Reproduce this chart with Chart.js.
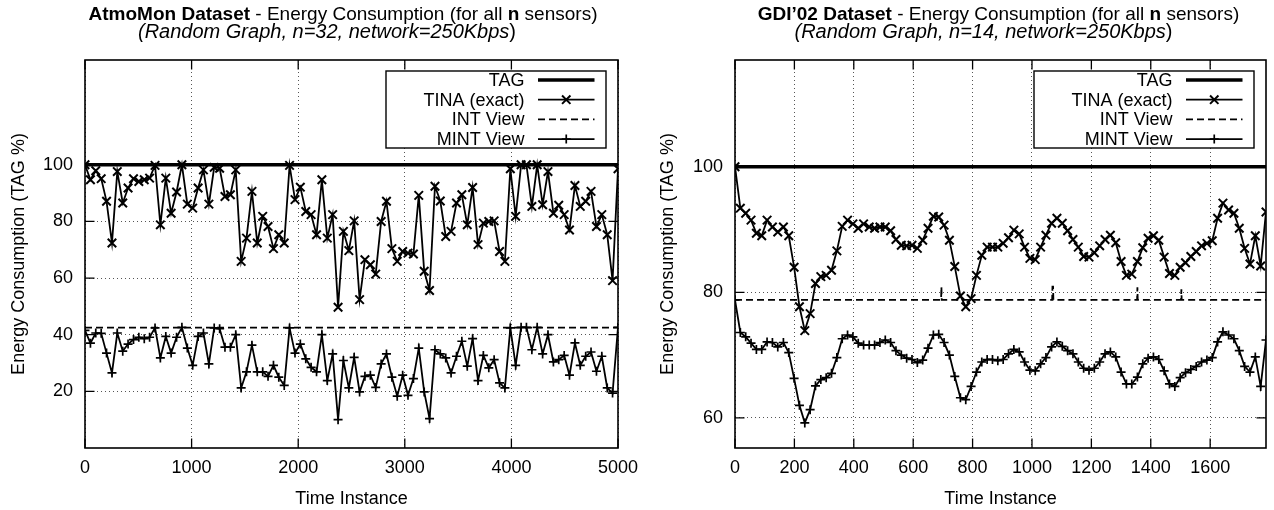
<!DOCTYPE html>
<html>
<head>
<meta charset="utf-8">
<script src="https://cdn.jsdelivr.net/npm/chart.js@4"></script>
<style>
  body { margin: 0; background: #fff; }
  #wrap { position: relative; width: 1274px; height: 510px; overflow: hidden; }
  canvas { position: absolute; top: 0; }
  #atmoChart { left: 0; }
  #gdiChart { left: 637px; }
</style>
</head>
<body>
<div id="wrap">
  <canvas id="atmoChart" width="660" height="510"></canvas>
  <canvas id="gdiChart" width="637" height="510"></canvas>
</div>
<script>
const seriesNames = ['TAG', 'TINA (exact)', 'INT View', 'MINT View'];

// AtmoMon dataset (left)
const atmoTimes = [0, 51, 101, 152, 202, 253, 303, 354, 404, 455, 505, 556, 606, 657, 707, 758, 808, 859, 909, 960,
  1010, 1061, 1111, 1162, 1212, 1263, 1313, 1364, 1414, 1465, 1515, 1566, 1616, 1667, 1717, 1768, 1818, 1869, 1919, 1970,
  2020, 2071, 2121, 2172, 2222, 2273, 2323, 2374, 2424, 2475, 2525, 2576, 2626, 2677, 2727, 2778, 2828, 2879, 2929, 2980,
  3030, 3081, 3131, 3182, 3232, 3283, 3333, 3384, 3434, 3485, 3535, 3586, 3636, 3687, 3737, 3788, 3838, 3889, 3939, 3990,
  4040, 4091, 4141, 4192, 4242, 4293, 4343, 4394, 4444, 4495, 4545, 4596, 4646, 4697, 4747, 4798, 4848, 4899, 4949, 5000];
const atmoTina = [100, 94.7, 97.9, 95.1, 87.1, 72.4, 97.6, 86.5, 91.8, 95.1, 94.1, 94.7, 95.3, 99.8, 78.8, 95.3, 82.9, 90.4, 100, 86.1,
  84.7, 91.8, 98.2, 86.1, 99.1, 98.8, 88.8, 89.4, 98.2, 65.9, 74.1, 90.6, 72.4, 81.8, 78.2, 70.4, 75.3, 72.4, 99.8, 87.7,
  92.1, 83.5, 82.4, 75.3, 94.7, 74.1, 82.4, 49.7, 76.5, 69.7, 80.2, 52.4, 66.5, 64.7, 61.4, 80, 87.1, 70.4, 65.9, 69.4,
  68.8, 68.5, 89.2, 62.4, 55.6, 92.4, 87.2, 74.7, 76.5, 86.5, 89.4, 78.8, 92, 71.8, 79.4, 80, 80.2, 69.4, 65.9, 98.6,
  81.8, 100, 100, 85.3, 100, 85.9, 97.6, 82.9, 85.7, 82.4, 77, 92.7, 85.3, 87.1, 90.6, 78.2, 82.4, 75.3, 59.1, 98.6];
const atmoMint = [41.5, 37, 40.6, 40.5, 33.5, 26.5, 40.6, 34.2, 36.7, 38.3, 39.1, 38.6, 39.1, 42.4, 31.8, 39.4, 33.5, 39.1, 42.6, 35.3,
  29.2, 39.4, 40.6, 29.7, 42.4, 42.1, 35.6, 35.6, 40, 21.2, 26.9, 36.3, 26.9, 26.9, 25.3, 29.2, 25, 22.1, 42.4, 33.5,
  36.7, 31.5, 28.5, 26.9, 40, 23.8, 33.2, 10, 30.9, 21.2, 32, 19.8, 25.3, 25.7, 21.4, 29.7, 33.2, 25, 18.3, 25.7,
  18.6, 24.5, 35.3, 19.8, 10.4, 34.7, 33.2, 31.8, 26.5, 32.4, 37.7, 28.9, 38.6, 23.8, 32.7, 28.3, 31.2, 23, 21.2, 42.4,
  29.2, 42.6, 42.6, 34.7, 42.6, 33.2, 40, 30.4, 31.2, 32.7, 25.7, 37.1, 29.2, 32.4, 33.9, 27.1, 32.4, 21.2, 19.4, 42.6];
const atmoTagTimes = [0, 5000];
const atmoTag = [100, 100];
const atmoIntTimes = [0, 5000];
const atmoInt = [42.5, 42.5];
const atmoXTicks = [0, 1000, 2000, 3000, 4000, 5000];
const atmoYTicks = [20, 40, 60, 80, 100];

// GDI'02 dataset (right)
const gdiTimes = [0, 18, 36, 54, 72, 90, 108, 126, 144, 163, 181, 199, 217, 235, 253, 271, 289, 307, 325, 343,
  361, 379, 397, 415, 433, 452, 470, 488, 506, 524, 542, 560, 578, 596, 614, 632, 650, 668, 686, 704,
  722, 740, 759, 777, 795, 813, 831, 849, 867, 885, 903, 921, 939, 957, 975, 993, 1011, 1029, 1047, 1066,
  1084, 1102, 1120, 1138, 1156, 1174, 1192, 1210, 1228, 1246, 1264, 1282, 1300, 1318, 1336, 1355, 1373, 1391, 1409, 1427,
  1445, 1463, 1481, 1499, 1517, 1535, 1553, 1571, 1589, 1607, 1625, 1643, 1662, 1680, 1698, 1716, 1734, 1752, 1770, 1788];
const gdiTina = [100, 93.4, 92.6, 91.5, 89.4, 89, 91.5, 90.4, 89.6, 90.4, 89, 84, 77.7, 73.9, 76.6, 81.4, 82.5, 82.7, 83.5, 86.6,
  90.5, 91.5, 90.9, 90.2, 90.9, 90.4, 90.2, 90.4, 90.4, 89.8, 88.4, 87.5, 87.4, 87.5, 87, 88.3, 90.2, 92.1, 92, 90.7,
  88.3, 84.1, 79.4, 77.7, 79, 82.7, 85.9, 87.2, 87.2, 87.2, 87.8, 88.7, 89.9, 89.3, 87.2, 85.4, 85.2, 87.2, 89.1, 91,
  91.8, 91, 89.8, 88.4, 87.2, 85.7, 85.6, 86.3, 87.4, 88.4, 89.1, 87.9, 84.9, 82.7, 82.9, 84.9, 87.1, 88.6, 89, 88.3,
  85.6, 83, 82.7, 84, 84.7, 85.7, 86.5, 87.4, 87.8, 88.2, 91.8, 94.2, 93.1, 92.6, 90.2, 87, 84.5, 89, 84.2, 92.8];
const gdiMint = [78.8, 73.6, 72.9, 71.9, 70.9, 70.9, 72.1, 72, 71.3, 72, 70.4, 66.3, 62, 59.2, 61.3, 65.1, 66.1, 66.4, 67.1, 69.6,
  72.6, 73.2, 72.9, 71.9, 71.6, 71.6, 71.6, 72, 72.4, 72, 70.7, 70, 69.5, 69.3, 68.8, 69.2, 71.1, 73.2, 73.3, 72,
  70, 66.6, 63.2, 62.9, 65, 67.3, 68.9, 69.3, 69.3, 69.1, 69.3, 70.2, 70.9, 70.5, 68.9, 67.6, 67.5, 68.6, 69.6, 71.3,
  72.1, 71.4, 70.7, 70.2, 68.9, 67.9, 67.6, 67.9, 68.9, 70.2, 70.5, 69.7, 67.3, 65.4, 65.4, 66.5, 68.6, 69.5, 69.7, 69.3,
  67.5, 65.4, 65, 66.4, 67.2, 67.7, 68.2, 68.9, 69.2, 69.6, 72.1, 73.7, 73.2, 72.6, 70.7, 68.2, 67.3, 69.7, 65, 72.4];
const gdiTagTimes = [0, 1788];
const gdiTag = [100, 100];
const gdiIntTimes = [0, 694, 695, 696, 1068, 1069, 1071, 1072, 1354, 1355, 1356, 1502, 1503, 1504, 1788];
const gdiInt = [78.8, 78.8, 80.9, 78.8, 78.8, 80.9, 80.9, 78.8, 78.8, 80.8, 78.8, 78.8, 80.5, 78.8, 78.8];
const gdiXTicks = [0, 200, 400, 600, 800, 1000, 1200, 1400, 1600];
const gdiYTicks = [60, 80, 100];

const fontFamily = '"Liberation Sans", Arial, sans-serif';
const textSize = 18;

function pts(xs, ys) {
    return xs.map((x, i) => ({ x: x, y: ys[i] }));
}

function fontFor(part, size) {
    return (part.i ? 'italic ' : '') + (part.b ? 'bold ' : '') + size + 'px ' + fontFamily;
}

function drawRich(ctx, parts, cx, y, size) {
    let total = 0;
    parts.forEach(p => {
        ctx.font = fontFor(p, size);
        p.w = ctx.measureText(p.t).width;
        total += p.w;
    });
    let x = cx - total / 2;
    ctx.textAlign = 'left';
    ctx.textBaseline = 'alphabetic';
    parts.forEach(p => {
        ctx.font = fontFor(p, size);
        ctx.fillText(p.t, x, y);
        x += p.w;
    });
}

function drawMarker(ctx, style, x, y) {
    ctx.beginPath();
    if (style === 'crossRot') {
        ctx.moveTo(x - 4.2, y - 4.2); ctx.lineTo(x + 4.2, y + 4.2);
        ctx.moveTo(x - 4.2, y + 4.2); ctx.lineTo(x + 4.2, y - 4.2);
    } else {
        ctx.moveTo(x - 4.5, y); ctx.lineTo(x + 4.5, y);
        ctx.moveTo(x, y - 4.5); ctx.lineTo(x, y + 4.5);
    }
    ctx.stroke();
}

// gnuplot-like frame, inner ticks, title and boxed legend
const gnuplotLook = {
    id: 'gnuplotLook',
    afterDraw(chart, args, opts) {
        const ctx = chart.ctx;
        const area = chart.chartArea;
        const xs = chart.scales.x, ys = chart.scales.y;
        ctx.save();
        ctx.strokeStyle = '#000';
        ctx.fillStyle = '#000';

        // inner tick marks on all four sides
        ctx.lineWidth = 1.3;
        ctx.beginPath();
        xs.ticks.forEach(t => {
            const px = xs.getPixelForValue(t.value);
            ctx.moveTo(px, area.bottom); ctx.lineTo(px, area.bottom - 9.5);
            ctx.moveTo(px, area.top); ctx.lineTo(px, area.top + 9.5);
        });
        ys.ticks.forEach(t => {
            const py = ys.getPixelForValue(t.value);
            ctx.moveTo(area.left, py); ctx.lineTo(area.left + 9.5, py);
            ctx.moveTo(area.right, py); ctx.lineTo(area.right - 9.5, py);
        });
        ctx.stroke();

        // border
        ctx.lineWidth = 1.6;
        ctx.strokeRect(area.left, area.top, area.right - area.left, area.bottom - area.top);

        // title
        drawRich(ctx, opts.line1, opts.cx1, 20, 19);
        drawRich(ctx, opts.line2, opts.cx2, 38, 20);

        // legend box
        const boxR = area.right - 12, boxL = boxR - 220, boxT = 71, boxB = 148;
        ctx.fillStyle = '#fff';
        ctx.fillRect(boxL, boxT, boxR - boxL, boxB - boxT);
        ctx.lineWidth = 1.4;
        ctx.strokeRect(boxL, boxT, boxR - boxL, boxB - boxT);
        ctx.fillStyle = '#000';
        ctx.font = textSize + 'px ' + fontFamily;
        ctx.textAlign = 'right';
        ctx.textBaseline = 'middle';
        chart.data.datasets.forEach((ds, i) => {
            const y = 80 + i * 19.7;
            ctx.fillText(ds.label, boxR - 81.5, y + 1);
            const x0 = boxR - 68, x1 = boxR - 11.5;
            ctx.lineWidth = ds.borderWidth;
            ctx.setLineDash(ds.borderDash || []);
            ctx.beginPath();
            ctx.moveTo(x0, y); ctx.lineTo(x1, y);
            ctx.stroke();
            ctx.setLineDash([]);
            if (ds.pointRadius > 0) {
                ctx.lineWidth = ds.pointBorderWidth;
                drawMarker(ctx, ds.pointStyle, (x0 + x1) / 2, y);
            }
        });
        ctx.restore();
    }
};

function makeChart(canvasId, cfg) {
    const ctx = document.getElementById(canvasId).getContext('2d');
    return new Chart(ctx, {
        type: 'line',
        data: {
            datasets: [
                { label: seriesNames[0], data: pts(cfg.tagTimes, cfg.tag), borderColor: '#000', borderWidth: 3.6, pointRadius: 0 },
                { label: seriesNames[1], data: pts(cfg.times, cfg.tina), borderColor: '#000', borderWidth: 1.8,
                  pointStyle: 'crossRot', pointRadius: 6, pointBorderWidth: 2, pointBorderColor: '#000' },
                { label: seriesNames[2], data: pts(cfg.intTimes, cfg.int), borderColor: '#000', borderWidth: 1.8,
                  borderDash: [7, 4], pointRadius: 0 },
                { label: seriesNames[3], data: pts(cfg.times, cfg.mint), borderColor: '#000', borderWidth: 1.8,
                  pointStyle: 'cross', pointRadius: 4.5, pointBorderWidth: 1.7, pointBorderColor: '#000' }
            ]
        },
        options: {
            responsive: false,
            animation: false,
            devicePixelRatio: 1,
            tension: 0,
            layout: { padding: { left: 0, right: cfg.padRight, top: 60, bottom: 0 } },
            plugins: {
                legend: { display: false },
                tooltip: { enabled: false },
                gnuplotLook: { line1: cfg.line1, line2: cfg.line2, cx1: cfg.cx1, cx2: cfg.cx2 }
            },
            scales: {
                x: {
                    type: 'linear',
                    min: cfg.xMin,
                    max: cfg.xMax,
                    afterBuildTicks: axis => { axis.ticks = cfg.xTicks.map(v => ({ value: v })); },
                    afterFit: axis => { axis.height = 62; axis.paddingLeft = 0; axis.paddingRight = 0; },
                    grid: { drawTicks: false, color: '#555', lineWidth: 1 },
                    border: { display: false, dash: [1, 3] },
                    ticks: { padding: 9, color: '#000', font: { family: fontFamily, size: textSize },
                             callback: v => String(v) },
                    title: { display: true, text: 'Time Instance', color: '#000',
                             font: { family: fontFamily, size: textSize }, padding: { top: 0, bottom: 0 } }
                },
                y: {
                    min: cfg.yMin,
                    max: cfg.yMax,
                    afterBuildTicks: axis => { axis.ticks = cfg.yTicks.map(v => ({ value: v })); },
                    afterFit: axis => { axis.width = cfg.yWidth; axis.paddingTop = 0; axis.paddingBottom = 0; },
                    grid: { drawTicks: false, color: '#555', lineWidth: 1 },
                    border: { display: false, dash: [1, 3] },
                    ticks: { padding: 12, color: '#000', font: { family: fontFamily, size: textSize },
                             callback: v => String(v) },
                    title: { display: true, text: 'Energy Consumption (TAG %)', color: '#000',
                             font: { family: fontFamily, size: textSize }, padding: { top: cfg.yTitlePad, bottom: 0 } }
                }
            }
        },
        plugins: [gnuplotLook]
    });
}

makeChart('atmoChart', {
    times: atmoTimes, tina: atmoTina, mint: atmoMint,
    tagTimes: atmoTagTimes, tag: atmoTag, intTimes: atmoIntTimes, int: atmoInt,
    xMin: 0, xMax: 5000, yMin: 0, yMax: 137, xTicks: atmoXTicks, yTicks: atmoYTicks,
    padRight: 42, yWidth: 85, yTitlePad: 8,
    line1: [{ t: 'AtmoMon Dataset', b: true }, { t: ' - Energy Consumption (for all ' }, { t: 'n', b: true }, { t: ' sensors)' }],
    line2: [{ t: '(Random Graph, n=32, network=250Kbps', i: true }, { t: ')' }],
    cx1: 343, cx2: 327
});

makeChart('gdiChart', {
    times: gdiTimes, tina: gdiTina, mint: gdiMint,
    tagTimes: gdiTagTimes, tag: gdiTag, intTimes: gdiIntTimes, int: gdiInt,
    xMin: 0, xMax: 1788, yMin: 55.2, yMax: 117, xTicks: gdiXTicks, yTicks: gdiYTicks,
    padRight: 7, yWidth: 98, yTitlePad: 20,
    line1: [{ t: 'GDI\u201902 Dataset', b: true }, { t: ' - Energy Consumption (for all ' }, { t: 'n', b: true }, { t: ' sensors)' }],
    line2: [{ t: '(Random Graph, n=14, network=250Kbps', i: true }, { t: ')' }],
    cx1: 361.5, cx2: 346.5
});
</script>
</body>
</html>
